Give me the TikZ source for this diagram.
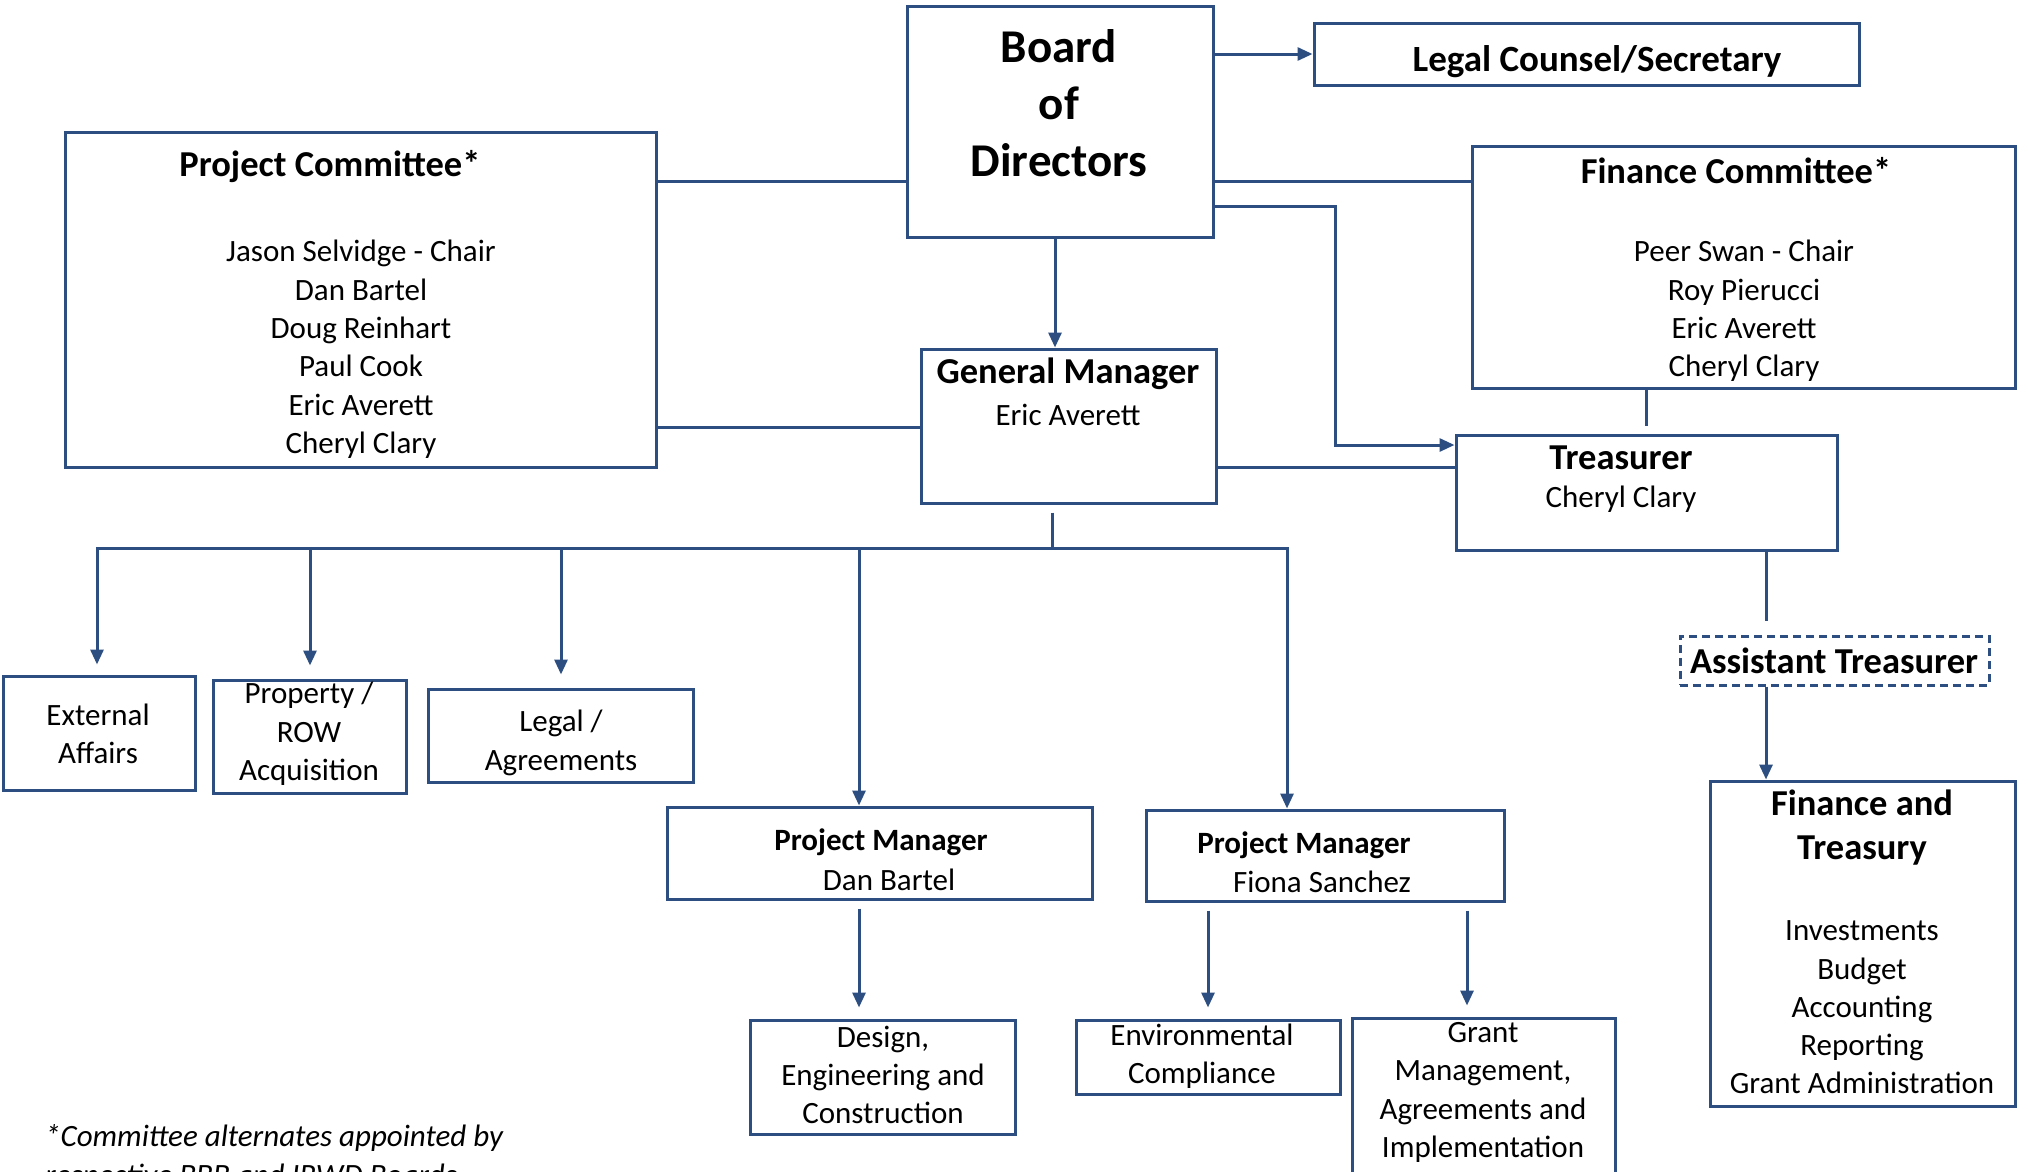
\documentclass[tikz,border=0pt]{standalone}
\usepackage{fontspec}
\setmainfont{Carlito}
\usetikzlibrary{arrows.meta}

\definecolor{orgblue}{RGB}{44,78,128}

% font sizes used in the chart
\newcommand\orgreg{\fontsize{31}{38.3}\selectfont}
\newcommand\orghead{\fontsize{36.5}{44}\selectfont\bfseries}
\newcommand\orgsub{\fontsize{31}{38.3}\selectfont\bfseries}
\newcommand\orgtop{\fontsize{47}{56.9}\selectfont\bfseries}

\tikzset{
  box/.style={draw=orgblue, line width=3pt, rectangle, inner sep=0pt},
  dbox/.style={box, dash pattern=on 8pt off 5pt},
  conn/.style={draw=orgblue, line width=3pt},
  arr/.style={conn, -{Triangle[length=15pt,width=13pt]}},
  txt/.style={inner sep=0pt, align=center, text=black, font=\orgreg},
  head/.style={txt, font=\orghead},
  sub/.style={txt, font=\orgsub},
}

% \orgbox[style]{x1}{y1}{x2}{y2}{name}: rectangle from corner to corner
\newcommand\orgbox[6][box]{%
  \node[#1, minimum width={#4-#2}, minimum height={#5-#3}]
    (#6) at ({(#2+#4)/2},{(#3+#5)/2}) {};}

\begin{document}
\begin{tikzpicture}[x=1pt, y=-1pt]
\useasboundingbox (0,0) rectangle (2028,1171);
\clip (0,0) rectangle (2028,1171);

% ---- boxes ----
\orgbox{907}{6}{1213}{237}{board}
\orgbox{1314}{23}{1859}{85}{legal}
\orgbox{65}{132}{656}{467}{pc}
\orgbox{1472}{146}{2015}{388}{fc}
\orgbox{921}{349}{1216}{503}{gm}
\orgbox{1456}{435}{1837}{550}{tr}
\orgbox[dbox]{1680}{636}{1989}{685}{asst}
\orgbox{1710}{781}{2015}{1106}{ft}
\orgbox{3}{676}{195}{790}{ext}
\orgbox{213}{680}{406}{793}{prop}
\orgbox{428}{689}{693}{782}{legA}
\orgbox{667}{807}{1092}{899}{pmd}
\orgbox{1146}{810}{1504}{901}{pmf}
\orgbox{750}{1020}{1015}{1134}{des}
\orgbox{1076}{1020}{1340}{1094}{env}
\orgbox{1352}{1018}{1615}{1190}{grant}

% ---- texts ----
\node[txt, font=\orgtop] (tBoard) at (1059,103.5) {Board\\of\\Directors};
\node[head, font=\fontsize{37}{44}\selectfont\bfseries] (tLegal) at (1597,62) {Legal Counsel/Secretary};
\node[head] (tPcHead) at (330,167) {Project Committee*};
\node[txt] (tPc) at (361,349.3) {Jason Selvidge - Chair\\Dan Bartel\\Doug Reinhart\\Paul Cook\\Eric Averett\\Cheryl Clary};
\node[head] (tFcHead) at (1736,171) {Finance Committee*};
\node[txt] (tFc) at (1744,311) {Peer Swan - Chair\\Roy Pierucci\\Eric Averett\\Cheryl Clary};
\node[head] (tGmHead) at (1068,374) {General Manager};
\node[txt] (tGm) at (1068,415) {Eric Averett};
\node[head] (tTrHead) at (1621,458) {Treasurer};
\node[txt] (tTr) at (1621,499) {Cheryl Clary};
\node[head] (tAsst) at (1834,661) {Assistant Treasurer};
\node[head] (tFtHead) at (1862,828) {Finance and\\Treasury};
\node[txt] (tFt) at (1862,1007.5) {Investments\\Budget\\Accounting\\Reporting\\Grant Administration};
\node[txt] (tExt) at (98,734) {External\\Affairs};
\node[txt] (tProp) at (309,734) {Property /\\ROW\\Acquisition};
\node[txt] (tLegA) at (561,743) {Legal /\\Agreements};
\node[sub] (tPmdHead) at (881,842) {Project Manager};
\node[txt] (tPmd) at (889,879.5) {Dan Bartel};
\node[sub] (tPmfHead) at (1304,845) {Project Manager};
\node[txt] (tPmf) at (1322,882) {Fiona Sanchez};
\node[txt] (tDes) at (883,1075) {Design,\\Engineering and\\Construction};
\node[txt] (tEnv) at (1202,1056) {Environmental\\Compliance};
\node[txt] (tGrant) at (1483,1092.5) {Grant\\Management,\\Agreements and\\Implementation};
\node[txt, align=left, anchor=west, font=\orgreg\itshape] (tNote) at (45,1157.5)
  {*Committee alternates appointed by\\respective BBB and IRWD Boards};

% ---- connector bends and levels ----
\coordinate (yA) at (0,181);
\coordinate (yB) at (0,427);
\coordinate (yC) at (0,467);
\coordinate (xGm) at (1055,0);
\coordinate (bt1) at (1335,206);
\coordinate (bt2) at (1335,445);
\coordinate (tx) at (1766,621);
\coordinate (busL) at (97,548);
\coordinate (busM) at (1052,548);
\coordinate (busR) at (1287,548);
\coordinate (xProp) at (310,548);
\coordinate (xLeg) at (561,548);
\coordinate (xDan) at (859,548);
\coordinate (xGrant) at (1467,907);

% ---- connectors ----
\draw[conn] (board.west |- yA) -- (pc.east |- yA);
\draw[conn] (board.east |- yA) -- (fc.west |- yA);
\draw[arr] (board.east |- legal.west) -- (legal.west);
\draw[arr] (board.east |- bt1) -- (bt1) -- (bt2) -- (tr.west |- bt2);
\draw[arr] (board.south -| xGm) -- (gm.north -| xGm);
\draw[conn] (gm.west |- yB) -- (pc.east |- yB);
\draw[conn] (gm.east |- yC) -- (tr.west |- yC);
\draw[conn] (fc.south -| tr.north) -- ([yshift=8pt]tr.north);
\draw[conn] (tr.south -| tx) -- (tx);
\draw[arr] (asst.south -| tx) -- (ft.north -| tx);

\draw[conn, shorten <=8pt] (gm.south -| busM) -- (busM);
\draw[arr, shorten >=10pt] (busM) -- (busL) -- (busL |- ext.north);
\draw[arr] (busM) -- (busR) -- (busR |- pmf.north);
\draw[arr, shorten >=13pt] (xProp) -- (xProp |- prop.north);
\draw[arr, shorten >=13pt] (xLeg) -- (xLeg |- legA.north);
\draw[arr] (xDan) -- (xDan |- pmd.north);

\draw[arr, shorten <=8pt, shorten >=11pt] (pmd.south -| xDan) -- (des.north -| xDan);
\draw[arr, shorten <=8pt, shorten >=11pt] (pmf.south -| env.north) -- (env.north);
\draw[arr, shorten <=8pt, shorten >=11pt] (pmf.south -| xGrant) -- (grant.north -| xGrant);
\end{tikzpicture}
\end{document}
